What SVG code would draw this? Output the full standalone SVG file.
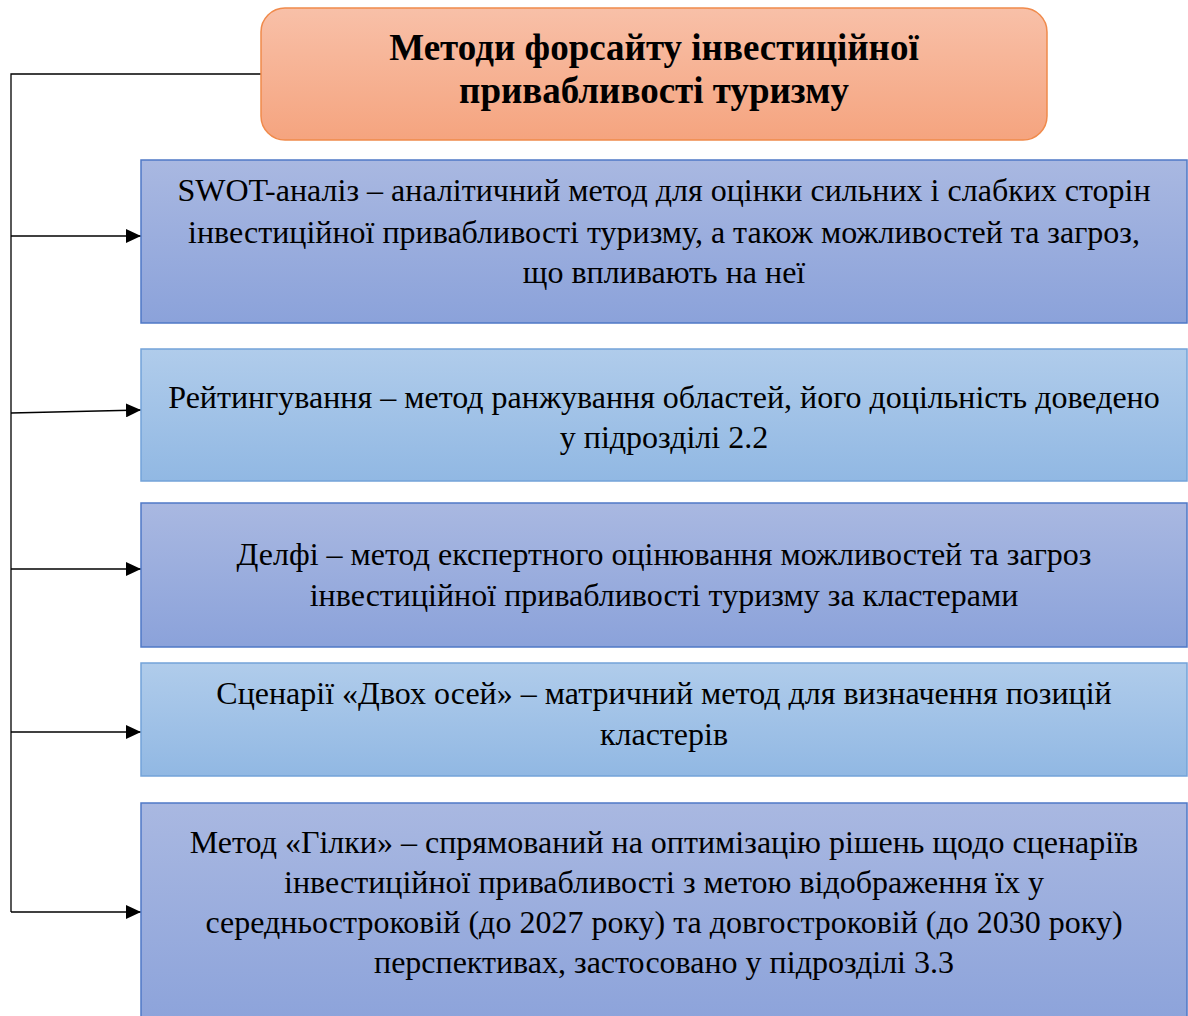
<svg xmlns="http://www.w3.org/2000/svg" width="1188" height="1016" viewBox="0 0 1188 1016">
<defs>
<linearGradient id="gOrange" x1="0" y1="0" x2="0" y2="1"><stop offset="0" stop-color="#F8C0A8"/><stop offset="1" stop-color="#F5A47F"/></linearGradient>
<linearGradient id="gPurple" x1="0" y1="0" x2="0" y2="1"><stop offset="0" stop-color="#A9B8E1"/><stop offset="1" stop-color="#8BA2DA"/></linearGradient>
<linearGradient id="gBlue" x1="0" y1="0" x2="0" y2="1"><stop offset="0" stop-color="#B0CCEB"/><stop offset="1" stop-color="#91B8E3"/></linearGradient>
<marker id="arr" markerWidth="16" markerHeight="14" refX="15" refY="7" orient="auto" markerUnits="userSpaceOnUse"><path d="M0,0 L15,7 L0,14 Z" fill="#000"/></marker>
<style>
.t{font-family:"Liberation Serif","Times New Roman",serif;font-size:32px;fill:#000;text-anchor:middle}
.title{font-family:"Liberation Serif","Times New Roman",serif;font-size:37px;font-weight:bold;fill:#000;text-anchor:middle}
.purple{fill:url(#gPurple);stroke:#4F78C6;stroke-width:1.5}
.blue{fill:url(#gBlue);stroke:#73A3D9;stroke-width:1.5}
.c{fill:none;stroke:#000;stroke-width:1.3}
</style>
</defs>
<g id="connectors">
<polyline class="c" points="261,74 11,74 11,912"/>
<line class="c" x1="11" y1="236" x2="141" y2="236" marker-end="url(#arr)"/>
<line class="c" x1="11" y1="413" x2="141" y2="410" marker-end="url(#arr)"/>
<line class="c" x1="11" y1="569" x2="141" y2="569" marker-end="url(#arr)"/>
<line class="c" x1="11" y1="732" x2="141" y2="732" marker-end="url(#arr)"/>
<line class="c" x1="11" y1="912" x2="141" y2="912" marker-end="url(#arr)"/>
</g>
<g id="title">
<rect x="261" y="8" width="786" height="132" rx="24" fill="url(#gOrange)" stroke="#F08A4B" stroke-width="1.5"/>
<text class="title" x="654" y="60">Методи форсайту інвестиційної</text>
<text class="title" x="654" y="103">привабливості туризму</text>
</g>
<g id="swot">
<rect class="purple" x="141" y="160" width="1046" height="163"/>
<text class="t" x="664" y="201">SWOT-аналіз – аналітичний метод для оцінки сильних і слабких сторін</text>
<text class="t" x="664" y="243">інвестиційної привабливості туризму, а також можливостей та загроз,</text>
<text class="t" x="664" y="283">що впливають на неї</text>
</g>
<g id="rating">
<rect class="blue" x="141" y="349" width="1046" height="132"/>
<text class="t" x="664" y="408">Рейтингування – метод ранжування областей, його доцільність доведено</text>
<text class="t" x="664" y="448">у підрозділі 2.2</text>
</g>
<g id="delphi">
<rect class="purple" x="141" y="503" width="1046" height="144"/>
<text class="t" x="664" y="565">Делфі – метод експертного оцінювання можливостей та загроз</text>
<text class="t" x="664" y="606">інвестиційної привабливості туризму за кластерами</text>
</g>
<g id="twoaxes">
<rect class="blue" x="141" y="663" width="1046" height="113"/>
<text class="t" x="664" y="704">Сценарії «Двох осей» – матричний метод для визначення позицій</text>
<text class="t" x="664" y="745">кластерів</text>
</g>
<g id="branch">
<rect class="purple" x="141" y="803" width="1046" height="230"/>
<text class="t" x="664" y="853">Метод «Гілки» – спрямований на оптимізацію рішень щодо сценаріїв</text>
<text class="t" x="664" y="893">інвестиційної привабливості з метою відображення їх у</text>
<text class="t" x="664" y="933">середньостроковій (до 2027 року) та довгостроковій (до 2030 року)</text>
<text class="t" x="664" y="973">перспективах, застосовано у підрозділі 3.3</text>
</g>
</svg>
